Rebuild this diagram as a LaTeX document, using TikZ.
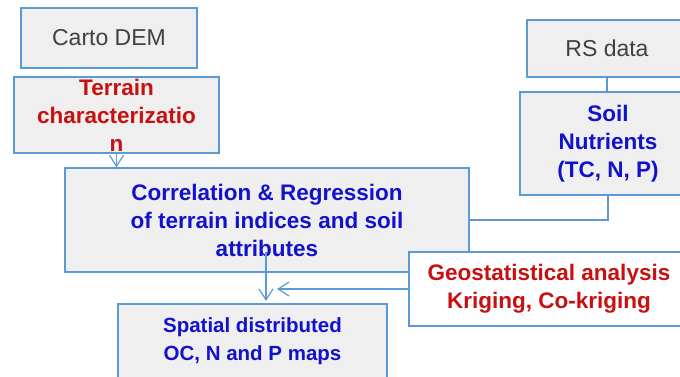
\documentclass[tikz,border=0pt]{standalone}
\usepackage{fontspec}
\setmainfont{Liberation Sans}
\usepackage{tikz}
\usetikzlibrary{arrows.meta}
\definecolor{boxline}{RGB}{91,155,213}
\definecolor{boxfill}{RGB}{239,239,239}
\definecolor{txtred}{RGB}{200,16,16}
\definecolor{txtblue}{RGB}{18,18,204}
\definecolor{txtgray}{RGB}{64,64,64}

\begin{document}
\begin{tikzpicture}[x=1pt,y=-1pt,
	box/.style={draw=boxline,line width=1.3pt,fill=boxfill,inner sep=0pt,align=center},
	big/.style={font=\fontsize{22.5}{28}\selectfont\bfseries},
	conn/.style={draw=boxline,line width=1.2pt},
	tip/.style={-{Straight Barb[length=11pt,width=14pt]}}]
	%\draw[help lines] (0,0) grid[step=20] (680,376);
	\clip (0,0) rectangle (680,376);
	\node[box,minimum width=176,minimum height=60,text=txtgray,font=\fontsize{23}{28}\selectfont] (carto) at (109,38) {Carto DEM};
	\node[box,minimum width=205,minimum height=76] (terr) at (116.5,115) {};
	\node[big,text=txtred,align=center] (terrtxt) at (116.5,115) {Terrain\\characterizatio\\n};
	\node[box,big,text=txtblue,minimum width=404,minimum height=104] (corr) at (267,220) {Correlation \& Regression\\of terrain indices and soil\\attributes};
	\node[box,minimum width=160,minimum height=57,text=txtgray,font=\fontsize{23}{28}\selectfont] (rs) at (607,48.5) {RS data};
	\node[box,big,text=txtblue,minimum width=176,minimum height=103] (soil) at (608,143.5) {Soil\\Nutrients\\(TC, N, P)};
	\node[box,big,fill=white,text=txtred,minimum width=280,minimum height=74] (geo) at (549,289) {Geostatistical analysis\\Kriging, Co-kriging};
	\node[box,text=txtblue,minimum width=269,minimum height=74,font=\fontsize{20.5}{28}\selectfont\bfseries] (spat) at (252.5,341) {Spatial distributed\\OC, N and P maps};
	\coordinate (cstart) at (266,252);
	\draw[conn] (rs.south) -- (rs.south |- soil.north);
	\draw[conn] (soil.south) |- (corr.east);
	\draw[conn,tip] (terr.south) -- (terr.south |- corr.north);
	\draw[conn,tip] (cstart) -- (266,301);
	\draw[conn,tip] (geo.west) -- (277,289);
\end{tikzpicture}
\end{document}
